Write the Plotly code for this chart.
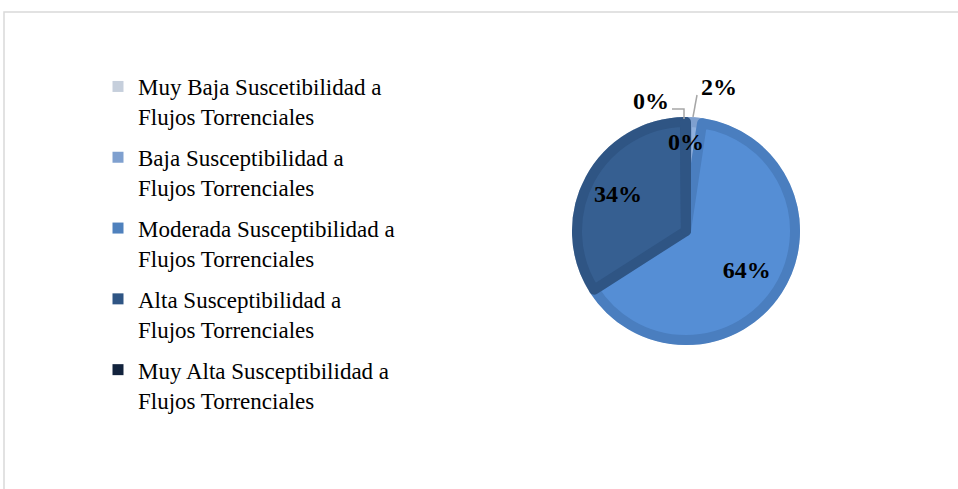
import plotly.graph_objects as go

categories = [
    "Muy Baja Suscetibilidad a<br>Flujos Torrenciales",
    "Baja Susceptibilidad a<br>Flujos Torrenciales",
    "Moderada Susceptibilidad a<br>Flujos Torrenciales",
    "Alta Susceptibilidad a<br>Flujos Torrenciales",
    "Muy Alta Susceptibilidad a<br>Flujos Torrenciales",
]
values = [0.15, 2.2, 63.6, 33.9, 0.15]

legend_colors = ["#c6cfdc", "#7fa0cf", "#4f81bd", "#2f5584", "#12233d"]
outer_colors = ["#e8edf4", "#7fa0cf", "#4a7ebf", "#2f5584", "#2f5584"]
inner_colors = ["#e8edf4", "#8fb0dd", "#558ed5", "#365f91", "#365f91"]

W, H = 958, 489


def px(x):
    return x / W


def py(y):
    return 1 - y / H


cx, cy, r_out, r_in, r_txt = 686, 231, 114, 109, 145

fig = go.Figure()
fig.add_trace(go.Pie(
    labels=categories, values=values, sort=False, direction="clockwise", rotation=0,
    marker=dict(colors=outer_colors, line=dict(color="white", width=0.6)),
    textinfo="none", hoverinfo="skip", showlegend=False,
    domain=dict(x=[px(cx - r_out), px(cx + r_out)], y=[py(cy + r_out), py(cy - r_out)]),
))
fig.add_trace(go.Pie(
    labels=categories, values=values, sort=False, direction="clockwise", rotation=0,
    marker=dict(colors=inner_colors, line=dict(color=outer_colors, width=10)),
    textinfo="none", hoverinfo="skip", showlegend=False,
    domain=dict(x=[px(cx - r_in), px(cx + r_in)], y=[py(cy + r_in), py(cy - r_in)]),
))
fig.add_trace(go.Pie(
    labels=categories, values=values, sort=False, direction="clockwise", rotation=0,
    marker=dict(colors=["rgba(0,0,0,0)"] * 5, line=dict(width=0)),
    texttemplate="%{percent:.0%}",
    textposition=["none", "none", "inside", "inside", "none"],
    insidetextorientation="horizontal",
    textfont=dict(family="Liberation Serif", size=24, color="black", weight="bold"),
    hoverinfo="skip", showlegend=False,
    domain=dict(x=[px(cx - r_txt), px(cx + r_txt)], y=[py(cy + r_txt), py(cy - r_txt)]),
))

# legend entries
for name, col in zip(categories, legend_colors):
    fig.add_trace(go.Scatter(
        x=[None], y=[None], mode="markers", name=name, legendgroup=name,
        marker=dict(symbol="square", size=11, color=col, line=dict(width=0)),
        showlegend=True, hoverinfo="skip",
    ))

total = sum(values)
pct = [f"{round(v / total * 100)}%" for v in values]
lab_font = dict(family="Liberation Serif", size=24, color="black", weight="bold")
for xx, yy, t in [(651, 101, pct[0]), (719, 87, pct[1]), (686, 142, pct[4])]:
    fig.add_annotation(x=px(xx), y=py(yy), text=t, showarrow=False, font=lab_font,
                       xref="paper", yref="paper", xanchor="center", yanchor="middle")

lead = dict(color="#a6a6a6", width=1.5)
fig.add_shape(type="path", xref="paper", yref="paper", line=lead,
              path=f"M {px(672)} {py(109)} L {px(684)} {py(109)} L {px(684)} {py(119)}")
fig.add_shape(type="line", xref="paper", yref="paper", line=lead,
              x0=px(697), y0=py(95), x1=px(693), y1=py(117))

# chart frame
fig.add_shape(type="rect", xref="paper", yref="paper", x0=px(4), y0=-0.2, x1=1.2, y1=py(12),
              line=dict(color="#d9d9d9", width=1.5), fillcolor="rgba(0,0,0,0)")

fig.update_layout(
    width=W, height=H,
    margin=dict(l=0, r=0, t=0, b=0),
    paper_bgcolor="white", plot_bgcolor="white",
    xaxis=dict(visible=False), yaxis=dict(visible=False),
    showlegend=True,
    legend=dict(
        x=px(98), y=py(65), xanchor="left", yanchor="top",
        font=dict(family="Liberation Serif", size=23, color="black"),
        valign="top", itemwidth=30, traceorder="grouped", tracegroupgap=8,
        bgcolor="rgba(0,0,0,0)",
    ),
)

fig.write_html("out.html", post_script="document.body.style.margin='0';",
               config={"displayModeBar": False})
